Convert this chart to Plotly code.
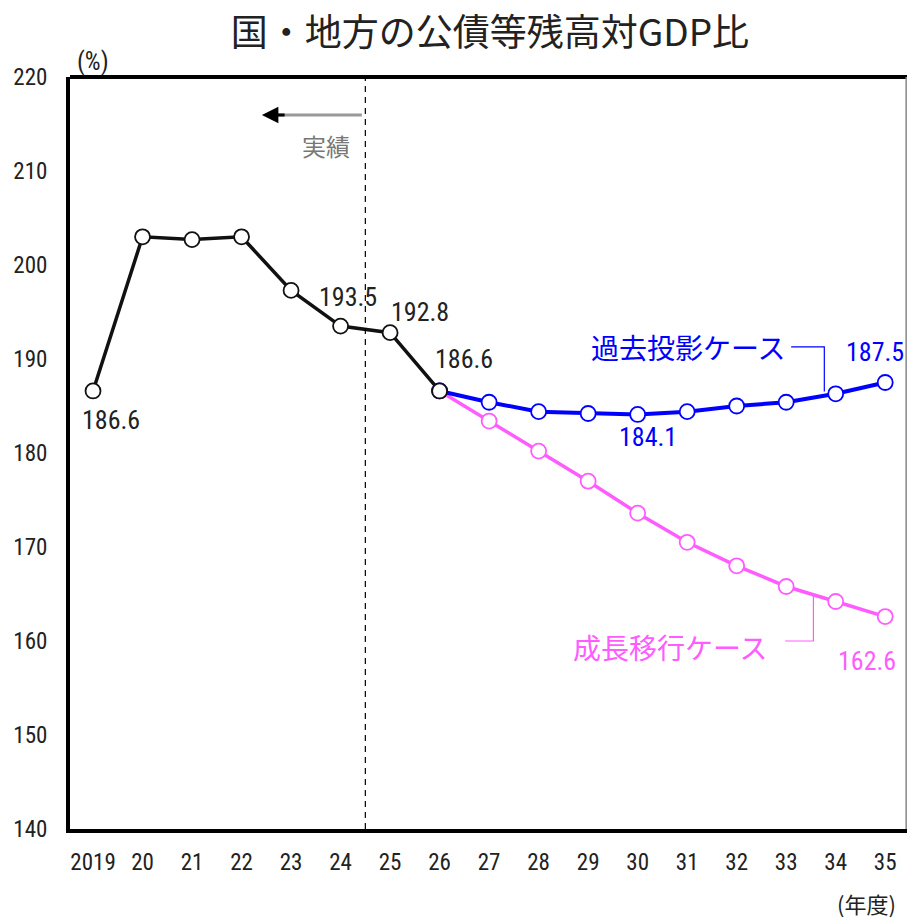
import plotly.graph_objects as go

years = ["2019", "20", "21", "22", "23", "24", "25", "26", "27", "28",
         "29", "30", "31", "32", "33", "34", "35"]
actual = [186.6, 203.0, 202.7, 203.0, 197.3, 193.5, 192.8, 186.6]
past_case = [186.6, 185.4, 184.4, 184.2, 184.1, 184.4, 185.0, 185.4, 186.3, 187.5]
growth_case = [186.6, 183.4, 180.2, 177.0, 173.6, 170.5, 168.0, 165.8, 164.2, 162.6]
yticks = [140, 150, 160, 170, 180, 190, 200, 210, 220]

BLUE = "#0000FF"
PINK = "#FF5CFF"
BLACK = "#111111"
NUM_FONT = "Liberation Sans Narrow, Arial Narrow, Roboto Condensed, Liberation Sans, sans-serif"
JP_FONT = "Noto Sans CJK JP, sans-serif"

n_act = len(actual)
xa = list(range(n_act))
xp = list(range(n_act - 1, len(years)))

fig = go.Figure()
fig.add_trace(go.Scatter(
    x=xp, y=growth_case, mode="lines+markers",
    line=dict(color=PINK, width=3.5),
    marker=dict(size=15, color="white", line=dict(color=PINK, width=1.8)),
    hoverinfo="skip"))
fig.add_trace(go.Scatter(
    x=xp, y=past_case, mode="lines+markers",
    line=dict(color=BLUE, width=4),
    marker=dict(size=15, color="white", line=dict(color=BLUE, width=1.8)),
    hoverinfo="skip"))
fig.add_trace(go.Scatter(
    x=xa, y=actual, mode="lines+markers",
    line=dict(color=BLACK, width=3.5),
    marker=dict(size=15, color="white", line=dict(color=BLACK, width=1.8)),
    hoverinfo="skip"))

ann = []
def label(x, y, text, color, dx, dy, size=26):
    ann.append(dict(x=x, y=y, text=text, showarrow=False, xshift=dx, yshift=dy,
                    font=dict(family=NUM_FONT, size=size, color=color)))

label(xa[0], actual[0], f"{actual[0]:.1f}", "#222", 18, -29)
label(xa[5], actual[5], f"{actual[5]:.1f}", "#222", 7, 29)
label(xa[6], actual[6], f"{actual[6]:.1f}", "#222", 30, 21)
label(xa[7], actual[7], f"{actual[7]:.1f}", "#222", 24, 32)
imin = past_case.index(min(past_case))
label(xp[imin], past_case[imin], f"{past_case[imin]:.1f}", BLUE, 10, -23)
label(xp[-1], past_case[-1], f"{past_case[-1]:.1f}", BLUE, -10, 31)
label(xp[-1], growth_case[-1], f"{growth_case[-1]:.1f}", PINK, -18, -44)

# case labels
ann.append(dict(x=12.02, y=191.3, text="過去投影ケース", showarrow=False,
                font=dict(family=JP_FONT, size=28, color=BLUE)))
ann.append(dict(x=11.66, y=159.4, text="成長移行ケース", showarrow=False,
                font=dict(family=JP_FONT, size=28, color=PINK)))
# actual label
ann.append(dict(x=4.7, y=212.7, text="実績", showarrow=False,
                font=dict(family=JP_FONT, size=24, color="#777")))
# arrowhead
ann.append(dict(x=3.41, y=215.95, ax=3.9, ay=215.95, axref="x", ayref="y",
                text="", showarrow=True, arrowhead=2, arrowsize=1.1,
                arrowwidth=3, arrowcolor="#000"))
# units
ann.append(dict(xref="paper", yref="paper", x=(93 - 70) / 837, y=1.0,
                xanchor="center", yanchor="middle", yshift=16, text="(%)",
                showarrow=False,
                font=dict(family=NUM_FONT, size=25, color="#222")))
ann.append(dict(xref="paper", yref="paper", x=(866 - 70) / 837, y=0,
                xanchor="center", yanchor="middle", yshift=-74, text="(年度)",
                showarrow=False,
                font=dict(family=JP_FONT, size=22, color="#222")))

shapes = [
    # dashed divider between actual and forecast
    dict(type="line", xref="x", yref="paper", x0=5.5, x1=5.5, y0=0, y1=1,
         line=dict(color="#000", width=1.2, dash="6px,5px")),
    # arrow shaft
    dict(type="line", xref="x", yref="y", x0=3.6, x1=5.43, y0=215.95, y1=215.95,
         line=dict(color="#999", width=3)),
    # leader lines
    dict(type="path", xref="x", yref="y",
         path="M 14.1 191.3 L 14.77 191.3 L 14.77 186.55",
         line=dict(color=BLUE, width=1.2)),
    dict(type="path", xref="x", yref="y",
         path="M 13.98 160.0 L 14.55 160.0 L 14.55 164.8",
         line=dict(color=PINK, width=1.2)),
    # frame
    dict(type="line", xref="paper", yref="paper", x0=0, x1=1, y0=1, y1=1,
         line=dict(color="#000", width=4)),
    dict(type="line", xref="paper", yref="paper", x0=0.999, x1=0.999, y0=0, y1=1,
         line=dict(color="#888", width=1.5)),
]

fig.update_layout(
    width=909, height=923,
    margin=dict(l=70, r=2, t=77, b=94),
    paper_bgcolor="white", plot_bgcolor="white",
    showlegend=False,
    title=dict(text="国・地方の公債等残高対GDP比", x=0.539, xanchor="center",
               y=1 - 33 / 923, yanchor="middle",
               font=dict(family=JP_FONT, size=37, color="#222")),
    annotations=ann, shapes=shapes,
)
fig.update_xaxes(range=[-0.465, 16.44], tickvals=list(range(len(years))),
                 ticktext=years, showgrid=False, zeroline=False,
                 showline=True, linecolor="#000", linewidth=4,
                 ticks="", ticklabelstandoff=9,
                 tickfont=dict(family=NUM_FONT, size=23, color="#222"))
fig.update_yaxes(range=[140, 220], tickvals=yticks, showgrid=False, zeroline=False,
                 showline=True, linecolor="#000", linewidth=4,
                 ticks="", ticklabelstandoff=14,
                 tickfont=dict(family=NUM_FONT, size=23, color="#222"))

fig.write_html(
    "out.html",
    config={"displayModeBar": False},
    post_script="document.body.style.margin='0';document.body.style.padding='0';"
                "document.body.style.overflow='hidden';",
)
